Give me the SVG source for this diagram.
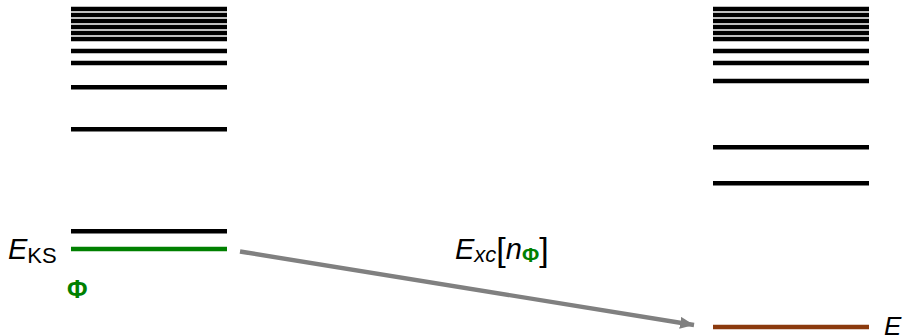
<svg xmlns="http://www.w3.org/2000/svg" width="904" height="336" viewBox="0 0 904 336">
<style>
.lv{stroke:#000;stroke-width:4.4}
.t{font-family:"Liberation Sans",Arial,sans-serif;fill:#000}
.it{font-style:italic}
.g{fill:#008000;font-weight:bold}
</style>
<defs>
<marker id="ah" markerUnits="userSpaceOnUse" markerWidth="16" markerHeight="12" refX="14" refY="6" orient="auto">
<path d="M0,0 L14,6 L0,12 z" fill="#808080"/>
</marker>
</defs>
<rect width="904" height="336" fill="#fff"/>
<g id="ks-levels">
<line class="lv" x1="71" x2="227" y1="9" y2="9"/>
<line class="lv" x1="71" x2="227" y1="15" y2="15"/>
<line class="lv" x1="71" x2="227" y1="21" y2="21"/>
<line class="lv" x1="71" x2="227" y1="27" y2="27"/>
<line class="lv" x1="71" x2="227" y1="33" y2="33"/>
<line class="lv" x1="71" x2="227" y1="39" y2="39"/>
<line class="lv" x1="71" x2="227" y1="51" y2="51"/>
<line class="lv" x1="71" x2="227" y1="63" y2="63"/>
<line class="lv" x1="71" x2="227" y1="87.3" y2="87.3"/>
<line class="lv" x1="71" x2="227" y1="129.3" y2="129.3"/>
<line class="lv" x1="71" x2="227" y1="231.3" y2="231.3"/>
</g>
<g id="ks-ground">
<line x1="71" x2="227" y1="249" y2="249" stroke="#008000" stroke-width="4.4"/>
<text class="t g" x="67" y="298" font-size="25">Φ</text>
</g>
<g id="ks-label">
<text class="t" x="8" y="259" font-size="29"><tspan class="it">E</tspan><tspan font-size="22" dy="4">KS</tspan></text>
</g>
<g id="true-levels">
<line class="lv" x1="713" x2="869" y1="9" y2="9"/>
<line class="lv" x1="713" x2="869" y1="15" y2="15"/>
<line class="lv" x1="713" x2="869" y1="21" y2="21"/>
<line class="lv" x1="713" x2="869" y1="27" y2="27"/>
<line class="lv" x1="713" x2="869" y1="33" y2="33"/>
<line class="lv" x1="713" x2="869" y1="39" y2="39"/>
<line class="lv" x1="713" x2="869" y1="51" y2="51"/>
<line class="lv" x1="713" x2="869" y1="63" y2="63"/>
<line class="lv" x1="713" x2="869" y1="81" y2="81"/>
<line class="lv" x1="713" x2="869" y1="147.3" y2="147.3"/>
<line class="lv" x1="713" x2="869" y1="183.3" y2="183.3"/>
</g>
<g id="true-ground">
<line x1="713" x2="869" y1="327" y2="327" stroke="#8B3A0E" stroke-width="4.4"/>
<text class="t it" x="884" y="335" font-size="26">E</text>
</g>
<g id="connectors">
<line x1="240" y1="251.5" x2="694" y2="325" stroke="#808080" stroke-width="4.4" marker-end="url(#ah)"/>
</g>
<g id="xc-label">
<text class="t" x="455" y="259" font-size="29"><tspan class="it">E</tspan><tspan class="it" font-size="22" dy="3">xc</tspan><tspan font-size="34" dy="-1">[</tspan><tspan class="it" dy="-2">n</tspan><tspan class="g" font-size="21" dy="3">Φ</tspan><tspan font-size="34" dy="-1">]</tspan></text>
</g>
</svg>
